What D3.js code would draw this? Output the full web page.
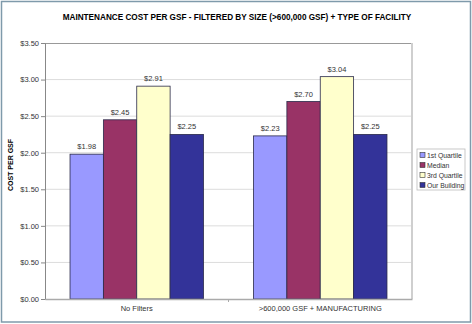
<!DOCTYPE html>
<html>
<head>
<meta charset="utf-8">
<script src="https://cdn.jsdelivr.net/npm/d3@7"></script>
<style>
  body { margin: 0; background: #fff; }
  text { font-family: "Liberation Sans", Arial, sans-serif; }
</style>
</head>
<body>
<script>
var categories = ['No Filters', '>600,000 GSF + MANUFACTURING'];
var seriesNames = ['1st Quartile', 'Median', '3rd Quartile', 'Our Building'];
var seriesColors = ['#9999ff', '#993366', '#ffffcc', '#333399'];
var q1 = [1.98, 2.23];
var median = [2.45, 2.70];
var q3 = [2.91, 3.04];
var ours = [2.25, 2.25];
var yTicks = [0, 0.5, 1, 1.5, 2, 2.5, 3, 3.5];

var width = 472, height = 324;
var plotL = 45, plotR = 412, plotT = 43, plotB = 299;

var svg = d3.select('body').append('svg')
  .attr('width', width)
  .attr('height', height);

svg.append('rect')
  .attr('x', 1.5).attr('y', 1.5)
  .attr('width', width - 3).attr('height', height - 3.5)
  .attr('fill', '#fff')
  .attr('stroke', '#7f9aab')
  .attr('stroke-width', 1.5);

var x0 = d3.scaleBand().domain(categories).range([plotL, plotR]);
// bars take 4 of 5.5 slot widths (gap width 150%)
var x1 = d3.scaleBand().domain(seriesNames)
  .range([x0.bandwidth() * 0.75 / 5.5, x0.bandwidth() * 4.75 / 5.5]);
var y = d3.scaleLinear().domain([0, 3.5]).range([plotB, plotT]);

// gridlines
svg.append('g').selectAll('line').data(yTicks.slice(1, -1)).enter().append('line')
  .attr('x1', plotL).attr('x2', plotR)
  .attr('y1', function(d) { return y(d); }).attr('y2', function(d) { return y(d); })
  .attr('stroke', '#dcdcdc').attr('stroke-width', 1);

// plot border
svg.append('line').attr('x1', plotL).attr('x2', plotR).attr('y1', plotT + 0.5).attr('y2', plotT + 0.5)
  .attr('stroke', '#999').attr('stroke-width', 1);
svg.append('line').attr('x1', plotR).attr('x2', plotR).attr('y1', plotT).attr('y2', plotB)
  .attr('stroke', '#cfcfcf').attr('stroke-width', 2);

var data = [q1, median, q3, ours];

var groups = svg.append('g').selectAll('g').data(categories).enter().append('g')
  .attr('transform', function(d) { return 'translate(' + x0(d) + ',0)'; });

groups.selectAll('rect').data(function(c, i) {
  return seriesNames.map(function(s, j) { return { s: s, v: data[j][i], c: seriesColors[j] }; });
}).enter().append('rect')
  .attr('x', function(d) { return x1(d.s); })
  .attr('width', x1.bandwidth())
  .attr('y', function(d) { return y(d.v); })
  .attr('height', function(d) { return plotB - y(d.v); })
  .attr('fill', function(d) { return d.c; })
  .attr('stroke', '#2a2a4a').attr('stroke-width', 0.8);

groups.selectAll('text').data(function(c, i) {
  return seriesNames.map(function(s, j) { return { s: s, v: data[j][i] }; });
}).enter().append('text')
  .attr('x', function(d) { return x1(d.s) + x1.bandwidth() / 2; })
  .attr('y', function(d) { return y(d.v) - 5; })
  .attr('text-anchor', 'middle')
  .attr('font-size', 7.5)
  .attr('fill', '#333')
  .text(function(d) { return '$' + d.v.toFixed(2); });

// axes
var yAxis = svg.append('g').attr('transform', 'translate(' + plotL + ',0)')
  .call(d3.axisLeft(y).tickValues(yTicks).tickSize(4).tickPadding(2)
    .tickFormat(function(d) { return '$' + d.toFixed(2); }));
yAxis.select('.domain').attr('stroke', '#888');
yAxis.selectAll('line').attr('stroke', '#888');
yAxis.selectAll('text').attr('font-size', 7.5).attr('fill', '#333');

var xAxis = svg.append('g').attr('transform', 'translate(0,' + plotB + ')')
  .call(d3.axisBottom(x0).tickSize(0).tickPadding(7));
xAxis.select('.domain').attr('stroke', '#aaa').attr('stroke-width', 1.5);
xAxis.selectAll('text').attr('font-size', 7.5).attr('fill', '#333');
svg.append('line').attr('x1', x0(categories[1])).attr('x2', x0(categories[1]))
  .attr('y1', plotB).attr('y2', plotB + 3).attr('stroke', '#aaa');

// title
svg.append('text').attr('x', 237).attr('y', 20).attr('text-anchor', 'middle')
  .attr('font-size', 8.2).attr('font-weight', 'bold').attr('fill', '#000')
  .text('MAINTENANCE COST PER GSF - FILTERED BY SIZE (>600,000 GSF) + TYPE OF FACILITY');

svg.append('text').attr('transform', 'translate(13,165) rotate(-90)')
  .attr('text-anchor', 'middle').attr('font-size', 7).attr('font-weight', 'bold')
  .text('COST PER GSF');

// legend
var legend = svg.append('g').attr('transform', 'translate(417,149)');
legend.append('rect').attr('width', 48).attr('height', 41)
  .attr('fill', '#fff').attr('stroke', '#bbb').attr('stroke-width', 0.8);
var items = legend.selectAll('g').data(seriesNames).enter().append('g')
  .attr('transform', function(d, i) { return 'translate(3,' + (6 + i * 10) + ')'; });
items.append('rect').attr('x', 0).attr('y', -2.5).attr('width', 5).attr('height', 5)
  .attr('fill', function(d, i) { return seriesColors[i]; })
  .attr('stroke', '#333').attr('stroke-width', 0.6);
items.append('text').attr('x', 7).attr('y', 2.5).attr('font-size', 6.8).attr('fill', '#333')
  .text(function(d) { return d; });
</script>
</body>
</html>
